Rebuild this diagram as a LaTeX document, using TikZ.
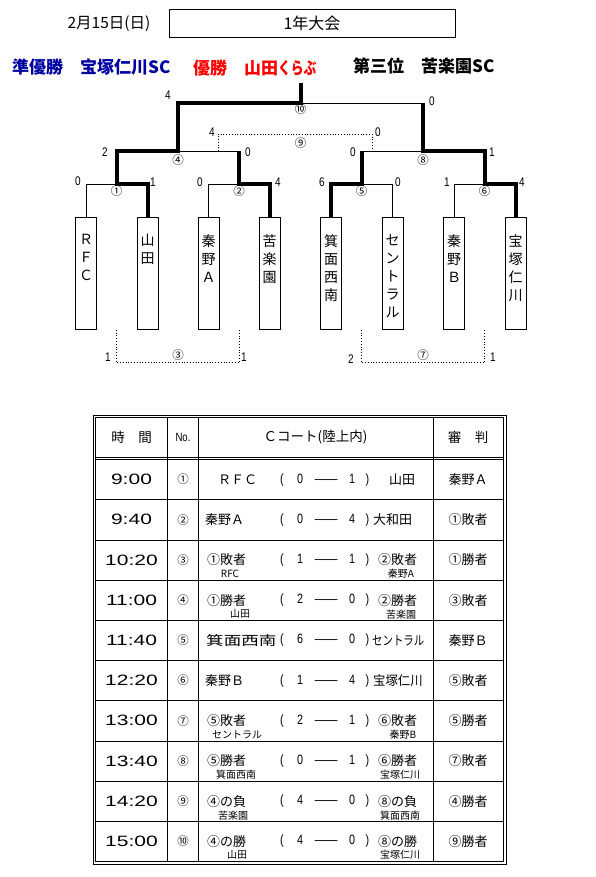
\documentclass[tikz,border=0pt]{standalone}
\usepackage{fontspec}
\usepackage{graphicx}
\setmainfont{Noto Sans CJK JP}
\newfontfamily\numfont[FakeStretch=0.8]{Liberation Sans}
\newfontfamily\timefont[FakeStretch=1.4]{Liberation Sans}
\definecolor{navy}{RGB}{0,0,160}
\newcommand{\vname}[1]{\parbox[c][112pt][t]{21pt}{\centering\vspace*{17pt}#1}}
\newcommand{\scorepair}[2]{\makebox[14pt][l]{(}\makebox[12pt]{#1}\makebox[40pt]{\scalebox{2.1}[1]{—}}\makebox[12pt]{#2}\makebox[11pt][r]{)}}
\begin{document}
\begin{tikzpicture}[x=1pt,y=-1pt]
  \tikzstyle{team} = [rectangle, draw, line width=0.8pt, inner sep=0pt, anchor=north, font=\fontsize{14}{18}\selectfont]
  \tikzstyle{win} = [line width=4pt]
  \tikzstyle{lose} = [line width=0.8pt]
  \tikzstyle{consol} = [dotted, line width=0.8pt]
  \tikzstyle{pts} = [font=\numfont\fontsize{12.5}{12.5}\selectfont, inner sep=0pt]
  \tikzstyle{mno} = [font=\fontsize{11.5}{11.5}\selectfont, inner sep=0pt]
  \tikzstyle{grid} = [line width=0.8pt]
  \tikzstyle{hdr} = [font=\fontsize{13.5}{13.5}\selectfont, inner sep=0pt]
  \tikzstyle{time} = [font=\timefont\fontsize{15}{15}\selectfont, inner sep=0pt]
  \tikzstyle{side} = [font=\fontsize{13}{13}\selectfont, inner sep=0pt, anchor=west]
  \tikzstyle{sub} = [font=\fontsize{10}{10}\selectfont, inner sep=0pt]
  \tikzstyle{res} = [font=\numfont\fontsize{13.5}{13.5}\selectfont, inner sep=0pt, anchor=west]
  \tikzstyle{ump} = [font=\fontsize{13}{13}\selectfont, inner sep=0pt]
  \useasboundingbox (0,0) rectangle (596,877);

  % Title
  \node [font=\fontsize{15.5}{15.5}\selectfont] (date) at (109,24) {2月15日(日)};
  \node [draw, line width=0.8pt, minimum width=286pt, minimum height=28pt, font=\fontsize{16}{16}\selectfont] (title) at (312,23) {1年大会};

  % Results
  \node [anchor=west, inner sep=0pt, text=navy, font=\bfseries\fontsize{17}{17}\selectfont] (second) at (12,67) {準優勝　宝塚仁川SC};
  \node [anchor=west, inner sep=0pt, text=red, font=\bfseries\fontsize{17}{17}\selectfont] (first) at (193,68) {優勝　山田\scalebox{0.75}[1]{くらぶ}};
  \node [anchor=west, inner sep=0pt, font=\bfseries\fontsize{17}{17}\selectfont] (third) at (353,66) {第三位　苦楽園SC};

  % Teams
  \node [team] (t1) at (86,217) {\vname{Ｒ\\Ｆ\\Ｃ}};
  \node [team] (t2) at (147.5,217) {\vname{山\\田}};
  \node [team] (t3) at (208.5,217) {\vname{秦\\野\\Ａ}};
  \node [team] (t4) at (269.5,217) {\vname{苦\\楽\\園}};
  \node [team] (t5) at (331,217) {\vname{箕\\面\\西\\南}};
  \node [team] (t6) at (392.5,217) {\vname{セ\\ン\\ト\\ラ\\ル}};
  \node [team] (t7) at (454,217) {\vname{秦\\野\\Ｂ}};
  \node [team] (t8) at (515.5,217) {\vname{宝\\塚\\仁\\川}};

  % Junctions
  \coordinate (m1) at (116.5,184);
  \coordinate (m2) at (239,184);
  \coordinate (m5) at (361.5,184);
  \coordinate (m6) at (484.5,184);
  \coordinate (m4) at (178,151);
  \coordinate (m8) at (423,151);
  \coordinate (m10) at (300.5,103);
  \coordinate (champ) at (300.5,83);
  \coordinate (m9l) at (218,151);
  \coordinate (m9r) at (372,151);

  % Lost lines
  \draw [lose] (t1.north) |- (m1);
  \draw [lose] (t3.north) |- (m2);
  \draw [lose] (t6.north) |- (m5);
  \draw [lose] (t7.north) |- (m6);
  \draw [lose] (m2 |- m4) -- (m4);
  \draw [lose] (m5 |- m8) -- (m8);
  \draw [lose] (m8 |- m10) -- (m10);

  % Won lines
  \draw [win] (t2.north) |- (m1) |- (m4) |- (m10) -- (champ);
  \draw [win] (t4.north) |- (m2) -- (m2 |- m4);
  \draw [win] (t5.north) |- (m5) -- (m5 |- m8);
  \draw [win] (t8.north) |- (m6) |- (m8) -- (m8 |- m10);

  % Consolation
  \draw [consol] (m1 |- t1.south) -- ++(0,33) -| (m2 |- t1.south);
  \draw [consol] (m5 |- t5.south) -- ++(0,33) -| (m6 |- t5.south);
  \draw [consol] (m9l) -- ++(0,-17) -| (m9r);

  % Match numbers
  \node [mno] (n1) at (116.5,191) {①};
  \node [mno] (n2) at (239,191) {②};
  \node [mno] (n5) at (361.5,191) {⑤};
  \node [mno] (n6) at (484.5,191) {⑥};
  \node [mno] (n4) at (178,160) {④};
  \node [mno] (n8) at (423,160) {⑧};
  \node [mno] (n10) at (300.5,109.5) {⑩};
  \node [mno] (n9) at (300.5,143) {⑨};
  \node [mno] (n3) at (178,355) {③};
  \node [mno] (n7) at (423,355) {⑦};

  % Points
  \node [pts] (p10l) at (168,95) {4};
  \node [pts] (p10r) at (432,101) {0};
  \node [pts] (p9l) at (212,132) {4};
  \node [pts] (p9r) at (378,132) {0};
  \node [pts] (p4l) at (105,152) {2};
  \node [pts] (p4r) at (248,152) {0};
  \node [pts] (p8l) at (353,152) {0};
  \node [pts] (p8r) at (492,152) {1};
  \node [pts] (p1l) at (78,181) {0};
  \node [pts] (p1r) at (153,182) {1};
  \node [pts] (p2l) at (200,182) {0};
  \node [pts] (p2r) at (278,182) {4};
  \node [pts] (p5l) at (322,182) {6};
  \node [pts] (p5r) at (398,182) {0};
  \node [pts] (p6l) at (447,182) {1};
  \node [pts] (p6r) at (522,182) {4};
  \node [pts] (p3l) at (108,357) {1};
  \node [pts] (p3r) at (244,357) {1};
  \node [pts] (p7l) at (351,359) {2};
  \node [pts] (p7r) at (493,357) {1};

  % Table frame
  \draw [grid] (93,415) rectangle (506,864);
  \draw [grid] (95.5,417.5) rectangle (503.5,861.5);
  \draw [grid] (95.5,457) -- (503.5,457);
  \draw [grid] (95.5,459.5) -- (503.5,459.5);
  \foreach \y in {499.7,539.9,580.1,620.3,660.5,700.7,740.9,781.1,821.3}
    \draw [grid] (95.5,\y) -- (503.5,\y);
  \draw [grid] (167.5,417.5) -- (167.5,861.5);
  \draw [grid] (198,417.5) -- (198,861.5);
  \draw [grid] (433,417.5) -- (433,861.5);

  % Table header
  \node [hdr] (h1) at (131.5,437) {時　間};
  \node [hdr, font=\numfont\fontsize{12}{12}\selectfont] (h2) at (183,437) {No.};
  \node [hdr] (h3) at (315.5,437) {Ｃコート(陸上内)};
  \node [hdr] (h4) at (468,437) {審　判};

  % Row 1
  \node [time] (tm1) at (131.5,479.6) {9:00};
  \node [mno] (no1) at (183,479.6) {①};
  \node [side] (a1) at (218,479.6) {ＲＦＣ};
  \node [res] (r1) at (280,479.6) {\scorepair{0}{1}};
  \node [side] (b1) at (389,479.6) {山田};
  \node [ump] (u1) at (468,479.6) {秦野Ａ};

  % Row 2
  \node [time] (tm2) at (131.5,519.8) {9:40};
  \node [mno] (no2) at (183,519.8) {②};
  \node [side] (a2) at (205,519.8) {秦野Ａ};
  \node [res] (r2) at (280,519.8) {\scorepair{0}{4}};
  \node [side] (b2) at (373,519.8) {大和田};
  \node [ump] (u2) at (468,519.8) {①敗者};

  % Row 3
  \node [time] (tm3) at (131.5,560) {10:20};
  \node [mno] (no3) at (183,560) {③};
  \node [side] (a3) at (207,560) {①敗者};
  \node [sub] (a3s) at (230,574) {RFC};
  \node [res] (r3) at (280,560) {\scorepair{1}{1}};
  \node [side] (b3) at (378,560) {②敗者};
  \node [sub] (b3s) at (401,574) {秦野A};
  \node [ump] (u3) at (468,560) {①勝者};

  % Row 4
  \node [time] (tm4) at (131.5,600.2) {11:00};
  \node [mno] (no4) at (183,600.2) {④};
  \node [side] (a4) at (207,600.2) {①勝者};
  \node [sub] (a4s) at (240,614.2) {山田};
  \node [res] (r4) at (280,600.2) {\scorepair{2}{0}};
  \node [side] (b4) at (378,600.2) {②勝者};
  \node [sub] (b4s) at (401,614.2) {苦楽園};
  \node [ump] (u4) at (468,600.2) {③敗者};

  % Row 5
  \node [time] (tm5) at (131.5,640.4) {11:40};
  \node [mno] (no5) at (183,640.4) {⑤};
  \node [side] (a5) at (206,640.4) {\scalebox{1.35}[1]{箕面西南}};
  \node [res] (r5) at (280,640.4) {\scorepair{6}{0}};
  \node [side] (b5) at (372,640.4) {\scalebox{0.8}[1]{セントラル}};
  \node [ump] (u5) at (468,640.4) {秦野Ｂ};

  % Row 6
  \node [time] (tm6) at (131.5,680.6) {12:20};
  \node [mno] (no6) at (183,680.6) {⑥};
  \node [side] (a6) at (205,680.6) {秦野Ｂ};
  \node [res] (r6) at (280,680.6) {\scorepair{1}{4}};
  \node [side] (b6) at (373,680.6) {\scalebox{0.95}[1]{宝塚仁川}};
  \node [ump] (u6) at (468,680.6) {⑤敗者};

  % Row 7
  \node [time] (tm7) at (131.5,720.8) {13:00};
  \node [mno] (no7) at (183,720.8) {⑦};
  \node [side] (a7) at (207,720.8) {⑤敗者};
  \node [sub] (a7s) at (237,735) {セントラル};
  \node [res] (r7) at (280,720.8) {\scorepair{2}{1}};
  \node [side] (b7) at (378,720.8) {⑥敗者};
  \node [sub] (b7s) at (403,735) {秦野B};
  \node [ump] (u7) at (468,720.8) {⑤勝者};

  % Row 8
  \node [time] (tm8) at (131.5,761) {13:40};
  \node [mno] (no8) at (183,761) {⑧};
  \node [side] (a8) at (207,761) {⑤勝者};
  \node [sub] (a8s) at (236,775) {箕面西南};
  \node [res] (r8) at (280,761) {\scorepair{0}{1}};
  \node [side] (b8) at (378,761) {⑥勝者};
  \node [sub] (b8s) at (400,775) {宝塚仁川};
  \node [ump] (u8) at (468,761) {⑦敗者};

  % Row 9
  \node [time] (tm9) at (131.5,801.2) {14:20};
  \node [mno] (no9) at (183,801.2) {⑨};
  \node [side] (a9) at (207,801.2) {④の負};
  \node [sub] (a9s) at (233,815.2) {苦楽園};
  \node [res] (r9) at (280,801.2) {\scorepair{4}{0}};
  \node [side] (b9) at (378,801.2) {⑧の負};
  \node [sub] (b9s) at (400,815.2) {箕面西南};
  \node [ump] (u9) at (468,801.2) {④勝者};

  % Row 10
  \node [time] (tm10) at (131.5,841.4) {15:00};
  \node [mno] (no10) at (183,841.4) {⑩};
  \node [side] (a10) at (207,841.4) {④の勝};
  \node [sub] (a10s) at (237,855.2) {山田};
  \node [res] (r10) at (280,841.4) {\scorepair{4}{0}};
  \node [side] (b10) at (378,841.4) {⑧の勝};
  \node [sub] (b10s) at (400,855.2) {宝塚仁川};
  \node [ump] (u10) at (468,841.4) {⑨勝者};
\end{tikzpicture}
\end{document}
